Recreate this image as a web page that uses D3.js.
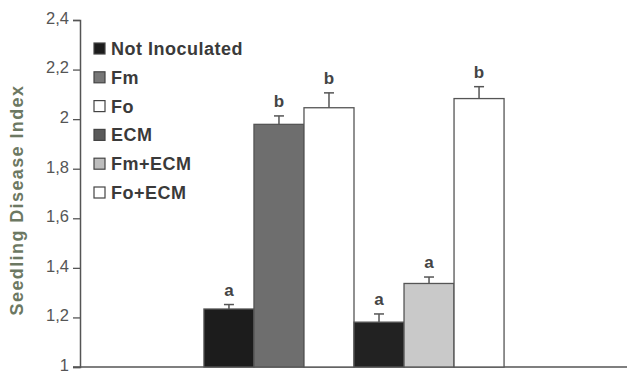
<!DOCTYPE html>
<html>
<head>
<meta charset="utf-8">
<script src="https://cdn.jsdelivr.net/npm/d3@7"></script>
<style>
  body { margin:0; background:#fff; }
  svg { display:block; }
  .tick text { font-family:"Liberation Sans Narrow","Arial Narrow","Liberation Sans",sans-serif; }
</style>
</head>
<body>
<div id="chart"></div>
<script>
var width=627,
    height=374;

// data
var treatments=["Not Inoculated","Fm","Fo","ECM","Fm+ECM","Fo+ECM"];
var means=[1.234,1.979,2.046,1.181,1.337,2.083];
var errors=[0.018,0.034,0.060,0.033,0.026,0.048];
var letters=["a","b","b","a","a","b"];
var yTicks=[1,1.2,1.4,1.6,1.8,2,2.2,2.4];

var barColors=["#1c1c1c","#6e6e6e","#ffffff","#222222","#c9c9c9","#ffffff"];
var legendColors=["#1c1c1c","#777777","#ffffff","#5a5a5a","#bdbdbd","#ffffff"];

var margin={left:80,top:20,right:0,bottom:6};

var svg=d3.select("#chart")
          .append("svg")
          .attr("width",width)
          .attr("height",height);

var yScale=d3.scaleLinear()
             .domain([1,2.4])
             .range([367,20]);

var xScale=d3.scaleBand()
             .domain(["all"])
             .range([margin.left,628])
             .paddingInner(0)
             .paddingOuter(0.413);

var xSub=d3.scaleBand()
           .domain(treatments)
           .range([0,xScale.bandwidth()]);

// y axis
var yAxis=d3.axisLeft(yScale)
            .tickValues(yTicks)
            .tickSize(7)
            .tickFormat(function(d){ return d3.format("")(+d.toFixed(1)).replace(".",","); });

var gy=svg.append("g")
          .attr("transform","translate("+margin.left+",0)")
          .call(yAxis);
gy.select(".domain").attr("stroke","#555").attr("stroke-width",1.5);
gy.selectAll(".tick line").attr("stroke","#555").attr("stroke-width",1.3);
gy.selectAll(".tick text")
  .attr("fill","#555")
  .attr("font-size",16.5)
  .attr("dy","0.2em")
  .attr("x",-11);

// x axis baseline
svg.append("line")
   .attr("x1",73)
   .attr("x2",width)
   .attr("y1",yScale(1))
   .attr("y2",yScale(1))
   .attr("stroke","#555")
   .attr("stroke-width",1.5);

// y title
svg.append("text")
   .attr("transform","translate(23,200) rotate(-90)")
   .attr("text-anchor","middle")
   .attr("font-family","Liberation Sans, Arial, sans-serif")
   .attr("font-weight","bold")
   .attr("font-size",18)
   .attr("letter-spacing",1.4)
   .attr("fill","#6c7862")
   .text("Seedling Disease Index");

// bars
var g=svg.append("g").attr("transform","translate("+xScale("all")+",0)");

g.selectAll("rect.bar")
 .data(means)
 .enter()
 .append("rect")
 .attr("class","bar")
 .attr("x",function(d,i){ return xSub(treatments[i]); })
 .attr("y",function(d){ return yScale(d); })
 .attr("width",xSub.bandwidth())
 .attr("height",function(d){ return yScale(1)-yScale(d); })
 .attr("fill",function(d,i){ return barColors[i]; })
 .attr("stroke","#555")
 .attr("stroke-width",1.3);

// error bars (upper only)
g.selectAll("line.err")
 .data(means)
 .enter()
 .append("line")
 .attr("x1",function(d,i){ return xSub(treatments[i])+xSub.bandwidth()/2; })
 .attr("x2",function(d,i){ return xSub(treatments[i])+xSub.bandwidth()/2; })
 .attr("y1",function(d){ return yScale(d); })
 .attr("y2",function(d,i){ return yScale(d+errors[i]); })
 .attr("stroke","#555")
 .attr("stroke-width",1.5);

g.selectAll("line.cap")
 .data(means)
 .enter()
 .append("line")
 .attr("x1",function(d,i){ return xSub(treatments[i])+xSub.bandwidth()/2-5; })
 .attr("x2",function(d,i){ return xSub(treatments[i])+xSub.bandwidth()/2+5; })
 .attr("y1",function(d,i){ return yScale(d+errors[i]); })
 .attr("y2",function(d,i){ return yScale(d+errors[i]); })
 .attr("stroke","#555")
 .attr("stroke-width",1.5);

// significance letters
g.selectAll("text.letter")
 .data(means)
 .enter()
 .append("text")
 .attr("x",function(d,i){ return xSub(treatments[i])+xSub.bandwidth()/2; })
 .attr("y",function(d,i){ return yScale(d+errors[i])-9; })
 .attr("text-anchor","middle")
 .attr("font-family","Liberation Sans, Arial, sans-serif")
 .attr("font-weight","bold")
 .attr("font-size",17)
 .attr("fill","#444")
 .text(function(d,i){ return letters[i]; });

// legend
var legend=svg.append("g").attr("transform","translate(94,43)");
var rows=legend.selectAll("g")
               .data(treatments)
               .enter()
               .append("g")
               .attr("transform",function(d,i){ return "translate(0,"+(i*28.8)+")"; });
rows.append("rect")
    .attr("width",11)
    .attr("height",11)
    .attr("fill",function(d,i){ return legendColors[i]; })
    .attr("stroke","#444")
    .attr("stroke-width",1.2);
rows.append("text")
    .attr("x",17)
    .attr("y",12)
    .attr("font-family","Liberation Sans, Arial, sans-serif")
    .attr("font-weight","bold")
    .attr("font-size",18)
    .attr("letter-spacing",0.5)
    .attr("fill","#3a3a3a")
    .text(function(d){ return d; });
</script>
</body>
</html>
